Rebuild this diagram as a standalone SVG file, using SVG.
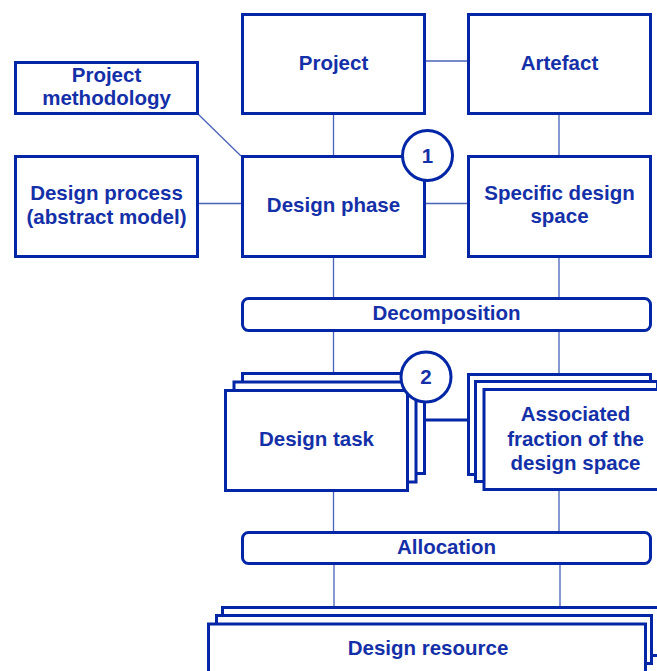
<svg xmlns="http://www.w3.org/2000/svg" width="657" height="671" viewBox="0 0 657 671">
<style>
.box{fill:#fff;stroke:#0326a6;stroke-width:3}
.bar{fill:#fff;stroke:#0326a6;stroke-width:3}
.circ{fill:#fff;stroke:#0326a6;stroke-width:3}
.ln{stroke:#4862b8;stroke-width:1.3;fill:none}
.thick{stroke:#0326a6;stroke-width:3;fill:none}
text{font-family:"Liberation Sans",Arial,sans-serif;font-weight:bold;font-size:20.5px;fill:#1430a8;text-anchor:middle}
</style>
<rect width="657" height="671" fill="#fff"/>
<g id="connectors">
<line class="ln" x1="426" y1="61" x2="467" y2="61"/>
<line class="ln" x1="198" y1="114" x2="241" y2="156"/>
<line class="ln" x1="199" y1="203.5" x2="241" y2="203.5"/>
<line class="ln" x1="426" y1="203.5" x2="467" y2="203.5"/>
<line class="ln" x1="333.5" y1="115" x2="333.5" y2="155"/>
<line class="ln" x1="559" y1="115" x2="559" y2="155"/>
<line class="ln" x1="333.5" y1="258" x2="333.5" y2="297"/>
<line class="ln" x1="559" y1="258" x2="559" y2="297"/>
<line class="ln" x1="333.5" y1="332" x2="333.5" y2="372"/>
<line class="ln" x1="559" y1="332" x2="559" y2="373"/>
<line class="ln" x1="333.5" y1="492" x2="333.5" y2="531"/>
<line class="ln" x1="559" y1="491" x2="559" y2="531"/>
<line class="ln" x1="334" y1="565" x2="334" y2="606"/>
<line class="ln" x1="560" y1="565" x2="560" y2="606"/>
<line class="thick" x1="425" y1="420" x2="468" y2="420"/>
</g>
<g id="project">
<rect class="box" x="242.5" y="14.5" width="182" height="99"/>
<text x="333.5" y="70">Project</text>
</g>
<g id="artefact">
<rect class="box" x="468.5" y="14.5" width="182" height="99"/>
<text x="559.5" y="70">Artefact</text>
</g>
<g id="project-methodology">
<rect class="box" x="15.5" y="62.5" width="182" height="51"/>
<text x="106.5" y="81.5">Project</text>
<text x="106.5" y="105">methodology</text>
</g>
<g id="design-process">
<rect class="box" x="15.5" y="156.5" width="182" height="100"/>
<text x="106.5" y="200">Design process</text>
<text x="106.5" y="224" textLength="160" lengthAdjust="spacingAndGlyphs">(abstract model)</text>
</g>
<g id="design-phase">
<rect class="box" x="242.5" y="156.5" width="182" height="100"/>
<text x="333.5" y="212">Design phase</text>
</g>
<g id="circle-1">
<circle class="circ" cx="427.5" cy="155.5" r="25"/>
<text x="427.5" y="162.5">1</text>
</g>
<g id="specific-design-space">
<rect class="box" x="468.5" y="156.5" width="182" height="100"/>
<text x="559.5" y="199.5">Specific design</text>
<text x="559.5" y="222.5">space</text>
</g>
<g id="decomposition">
<rect class="bar" x="242.5" y="298.5" width="408" height="32" rx="6"/>
<text x="446.5" y="320">Decomposition</text>
</g>
<g id="design-task">
<rect class="box" x="242.5" y="373.5" width="182" height="100"/>
<rect class="box" x="234" y="382" width="182" height="100"/>
<rect class="box" x="225.5" y="390.5" width="182" height="100"/>
<text x="316.5" y="445.5">Design task</text>
</g>
<g id="circle-2">
<circle class="circ" cx="426" cy="377" r="25"/>
<text x="426" y="384">2</text>
</g>
<g id="associated-fraction">
<rect class="box" x="468.5" y="374.5" width="182" height="100"/>
<rect class="box" x="475.5" y="381.5" width="182" height="100"/>
<rect class="box" x="484" y="389.5" width="182" height="100"/>
<text x="575.5" y="421">Associated</text>
<text x="575.5" y="445.5">fraction of the</text>
<text x="575.5" y="470">design space</text>
</g>
<g id="allocation">
<rect class="bar" x="242.5" y="532.5" width="408" height="31" rx="6"/>
<text x="446.5" y="554">Allocation</text>
</g>
<g id="design-resource">
<rect class="box" x="222.5" y="607.5" width="437" height="48"/>
<rect class="box" x="216.5" y="615.5" width="435" height="48"/>
<rect class="box" x="208.5" y="624" width="437" height="60"/>
<text x="428" y="654.5">Design resource</text>
</g>
</svg>
